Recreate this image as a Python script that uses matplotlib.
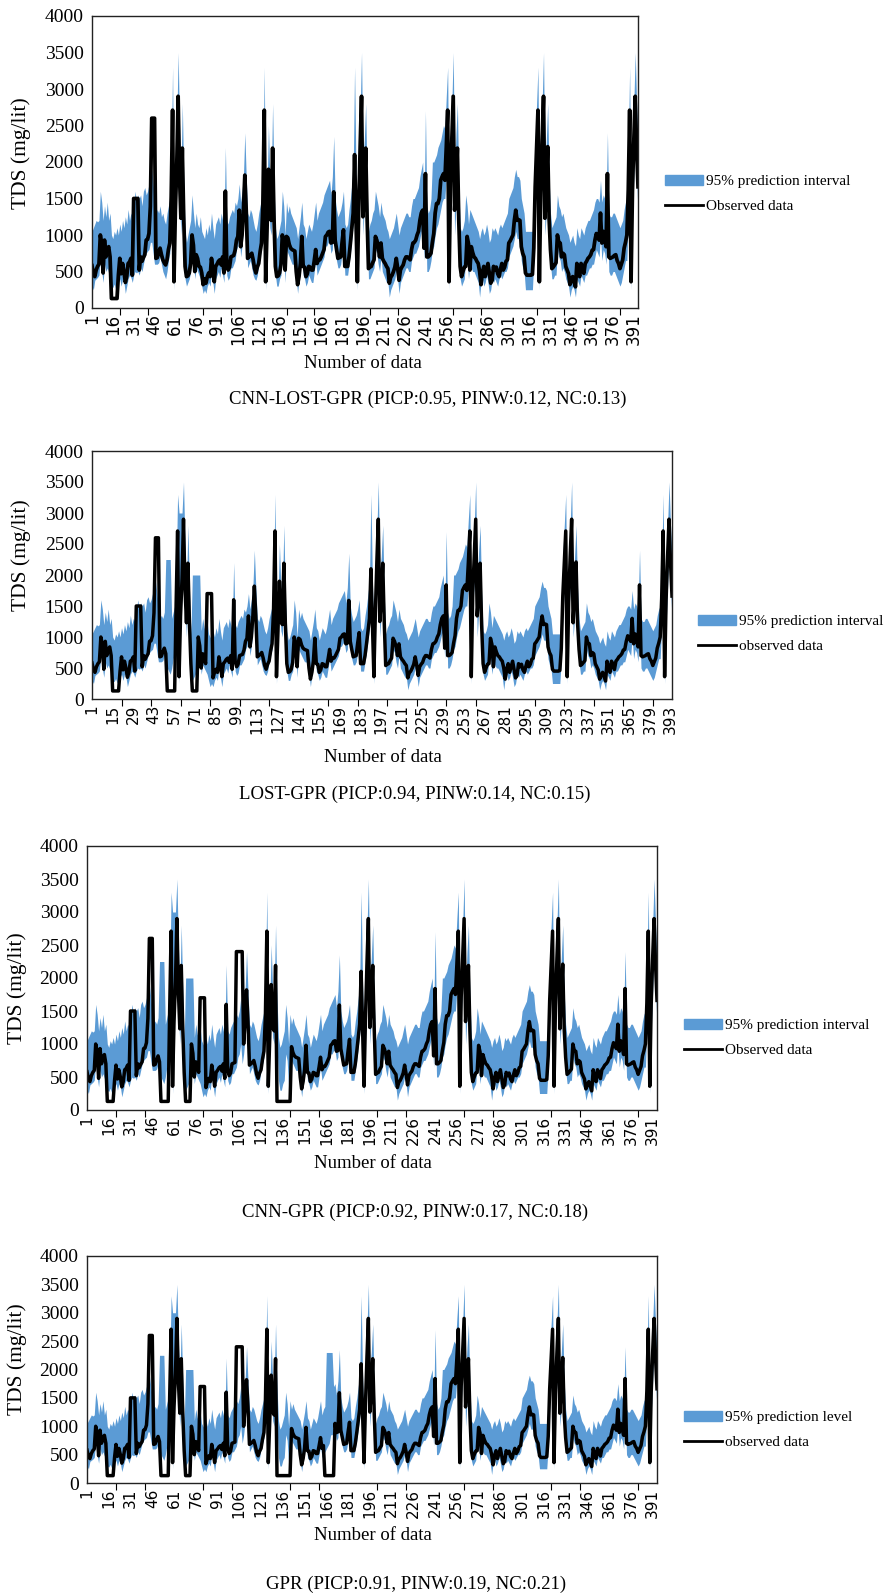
import numpy as np
import matplotlib.pyplot as plt
from matplotlib.patches import Patch
from matplotlib.lines import Line2D

plt.rcParams['font.family'] = ['Liberation Serif', 'DejaVu Serif']

# observed TDS (mg/lit), one value per record
observed = [
    580, 470, 430, 520, 570, 600, 1000, 880, 480, 930,
    700, 800, 840, 700, 130, 130, 130, 130, 130, 450,
    680, 470, 610, 500, 350, 430, 610, 630, 680, 450,
    1500, 1500, 1500, 1500, 520, 700, 640, 690, 730, 930,
    940, 1020, 1390, 2600, 2600, 2600, 680, 690, 760, 820,
    730, 660, 620, 590, 660, 800, 890, 1520, 2710, 360,
    1340, 1940, 2900, 1800, 1230, 2190, 1250, 570, 430, 440,
    480, 610, 1000, 860, 500, 730, 680, 570, 560, 480,
    320, 400, 340, 430, 480, 430, 680, 540, 360, 570,
    600, 640, 660, 590, 700, 480, 1600, 610, 520, 560,
    700, 710, 720, 790, 930, 980, 1340, 840, 1000, 1340,
    1820, 1340, 680, 700, 720, 750, 660, 540, 480, 560,
    610, 770, 890, 1430, 2710, 360, 1090, 1900, 1250, 1200,
    2190, 1230, 570, 430, 440, 480, 590, 1000, 890, 520,
    980, 960, 870, 820, 800, 790, 780, 500, 320, 430,
    610, 980, 570, 560, 430, 470, 570, 560, 520, 520,
    650, 800, 610, 660, 660, 700, 750, 800, 980, 1000,
    1040, 1050, 890, 900, 1590, 930, 800, 680, 690, 700,
    900, 1070, 570, 570, 570, 700, 890, 1100, 1300, 2100,
    1200, 360, 1390, 2200, 2900, 1250, 1600, 2190, 1250, 540,
    560, 570, 620, 660, 980, 930, 850, 700, 890, 680,
    640, 610, 570, 540, 340, 420, 450, 500, 560, 680,
    550, 380, 520, 560, 590, 660, 700, 700, 680, 660,
    800, 890, 900, 930, 1000, 1050, 1200, 1300, 1340, 820,
    1840, 700, 700, 720, 750, 900, 1020, 1300, 1430, 1430,
    1500, 1750, 1800, 1840, 1750, 2200, 2710, 360, 1710, 2300,
    2900, 1340, 1700, 2190, 1200, 570, 430, 500, 560, 570,
    980, 880, 520, 840, 760, 700, 680, 640, 610, 500,
    320, 480, 570, 430, 520, 610, 470, 340, 380, 570,
    520, 560, 470, 430, 530, 610, 520, 560, 640, 660,
    890, 920, 960, 1000, 1200, 1340, 1200, 1210, 1200, 840,
    750, 700, 480, 450, 450, 450, 450, 460, 820, 1660,
    2200, 2710, 360, 1570, 2300, 2900, 1230, 1700, 2210, 1230,
    800, 540, 560, 590, 620, 1000, 900, 890, 700, 750,
    730, 570, 520, 470, 320, 380, 430, 360, 290, 610,
    500, 430, 610, 560, 475, 610, 640, 680, 700, 730,
    790, 800, 930, 1020, 980, 930, 1300, 890, 1050, 950,
    840, 1840, 700, 680, 690, 700, 720, 730, 650, 610,
    540, 600, 660, 820, 900, 1000, 1620, 2710, 360, 1600,
    2300, 2900, 2200, 1660,
]

# upper edge of the 95% band
upper = [
    1050, 1100, 1150, 1200, 1180, 1200, 1600, 1450, 1200, 1400,
    1250, 1450, 1200, 1300, 1000, 950, 1050, 1000, 1100, 1000,
    1150, 1050, 1200, 1100, 1250, 1150, 1350, 1200, 1300, 1250,
    1400, 1600, 1450, 1550, 1500, 1550, 1400, 1600, 1650, 1550,
    1600, 1700, 1800, 1900, 1700, 1500, 1300, 1350, 1300, 1400,
    1250, 1300, 1200, 1150, 1300, 1400, 1500, 2000, 3300, 1000,
    2000, 2500, 3500, 2500, 1800, 2800, 1800, 1050, 900, 1000,
    1100, 1200, 1550, 1300, 1100, 1300, 1150, 1100, 1250, 1050,
    1000, 950, 1100, 1000, 1150, 1050, 1300, 1100, 950, 1150,
    1200, 1250, 1150, 1300, 1200, 1100, 2200, 1200, 1150, 1250,
    1300, 1350, 1300, 1450, 1400, 1500, 1700, 1450, 1600, 1800,
    2400, 1800, 1300, 1250, 1350, 1300, 1200, 1100, 1050, 1150,
    1300, 1400, 1500, 1900, 3300, 1000, 1600, 2500, 1800, 1700,
    2800, 1700, 1100, 950, 1000, 1100, 1200, 1600, 1400, 1000,
    1450, 1300, 1400, 1300, 1250, 1200, 1150, 1100, 950, 1100,
    1250, 1450, 1150, 1100, 950, 1050, 1150, 1100, 1050, 1150,
    1300, 1450, 1200, 1300, 1350, 1400, 1450, 1550, 1600, 1650,
    1700, 1750, 1550, 1800, 2350, 1500, 1350, 1250, 1300, 1350,
    1450, 1600, 1150, 1100, 1150, 1350, 1500, 1700, 1900, 3300,
    1900, 1000, 2000, 2700, 3500, 2000, 2300, 2800, 1700, 1050,
    1150, 1200, 1300, 1350, 1600, 1500, 1400, 1250, 1450, 1300,
    1250, 1200, 1100, 1050, 950, 1000, 1050, 1100, 1200, 1300,
    1150, 1000, 1100, 1150, 1200, 1250, 1300, 1300, 1250, 1250,
    1400, 1500, 1500, 1550, 1600, 1650, 1800, 1900, 2000, 1300,
    2700, 1400, 1300, 1350, 1500, 2000, 2000, 2050, 2100, 2200,
    2250, 2300, 2400, 2500, 2450, 2900, 3300, 1000, 2300, 2800,
    3500, 1800, 2400, 2800, 1700, 1100, 1050, 1100, 1200, 1550,
    1400, 1150, 1350, 1300, 1250, 1200, 1150, 1100, 1050, 950,
    1050, 1100, 1000, 1050, 1150, 1050, 900, 950, 1100, 1050,
    1100, 1050, 1000, 1100, 1150, 1100, 1150, 1200, 1250, 1300,
    1500, 1550, 1600, 1650, 1800, 1900, 1800, 1800, 1750, 1500,
    1400, 1300, 1050, 1050, 1050, 1050, 1050, 1050, 1400, 2300,
    2800, 3300, 1000, 2200, 2800, 3500, 1800, 2300, 2800, 1800,
    1300, 1100, 1150, 1200, 1250, 1550, 1400, 1350, 1250, 1300,
    1200, 1100, 1050, 1000, 900, 950, 1000, 900, 850, 1100,
    1000, 950, 1100, 1050, 1000, 1100, 1150, 1200, 1200, 1250,
    1300, 1350, 1450, 1500, 1500, 1450, 1750, 1450, 1550, 1500,
    1400, 2400, 1300, 1250, 1250, 1300, 1300, 1250, 1200, 1150,
    1100, 1150, 1200, 1350, 1450, 1500, 2200, 3300, 1000, 2200,
    2800, 3500, 2800, 2300,
]

# lower edge of the 95% band
lower = [
    300, 250, 380, 400, 420, 450, 700, 500, 350, 600,
    500, 550, 480, 450, 300, 280, 330, 260, 300, 350,
    400, 300, 400, 350, 200, 300, 400, 450, 420, 350,
    450, 500, 480, 500, 450, 550, 500, 600, 700, 750,
    780, 800, 900, 900, 750, 600, 600, 600, 620, 700,
    600, 500, 450, 400, 500, 650, 750, 1300, 2300, 250,
    1100, 1700, 2500, 1500, 1000, 1800, 1000, 400, 300, 350,
    400, 500, 800, 650, 400, 550, 500, 450, 400, 300,
    200, 250, 200, 300, 350, 300, 500, 350, 200, 400,
    450, 500, 420, 550, 450, 350, 1100, 450, 380, 420,
    550, 550, 600, 650, 800, 850, 1000, 700, 850, 1100,
    1500, 1100, 550, 600, 650, 550, 450, 400, 380, 450,
    600, 700, 800, 1200, 2300, 250, 900, 1600, 1100, 1000,
    1900, 1000, 450, 300, 300, 400, 450, 850, 750, 350,
    800, 750, 700, 650, 600, 600, 550, 400, 200, 400,
    500, 850, 450, 400, 300, 350, 450, 400, 350, 350,
    500, 650, 450, 500, 550, 600, 650, 700, 850, 850,
    900, 900, 750, 800, 1400, 800, 650, 550, 550, 600,
    750, 900, 450, 450, 450, 600, 750, 950, 1150, 1900,
    1000, 250, 1200, 2000, 2500, 1000, 1400, 1900, 1100, 400,
    400, 450, 500, 550, 800, 750, 600, 500, 700, 500,
    450, 400, 350, 350, 150, 250, 300, 350, 400, 500,
    400, 200, 350, 400, 450, 500, 550, 550, 500, 500,
    650, 700, 750, 750, 800, 850, 950, 1050, 1100, 650,
    1500, 500, 500, 550, 650, 800, 850, 1000, 1100, 1150,
    1250, 1350, 1450, 1500, 1500, 1800, 2300, 250, 1400, 1900,
    2500, 1000, 1400, 1800, 1000, 400, 300, 350, 400, 700,
    650, 400, 600, 550, 500, 500, 450, 400, 350, 150,
    350, 400, 300, 350, 450, 350, 200, 250, 400, 350,
    400, 350, 300, 400, 450, 400, 450, 500, 500, 550,
    700, 750, 800, 850, 950, 1050, 950, 950, 900, 650,
    550, 500, 250, 250, 250, 250, 250, 250, 650, 1300,
    1800, 2300, 250, 1300, 1800, 2500, 1000, 1300, 1800, 1000,
    600, 400, 400, 450, 450, 800, 700, 650, 500, 550,
    500, 400, 350, 300, 150, 250, 300, 250, 150, 400,
    350, 300, 450, 400, 350, 450, 450, 500, 550, 550,
    600, 600, 700, 800, 750, 700, 1000, 650, 800, 750,
    600, 1300, 500, 450, 450, 500, 500, 450, 400, 350,
    300, 350, 450, 550, 650, 650, 1200, 2300, 250, 1200,
    1800, 2500, 1800, 1300,
]

captions = [
    "CNN-LOST-GPR (PICP:0.95, PINW:0.12, NC:0.13)",
    "LOST-GPR (PICP:0.94, PINW:0.14, NC:0.15)",
    "CNN-GPR (PICP:0.92, PINW:0.17, NC:0.18)",
    "GPR (PICP:0.91, PINW:0.19, NC:0.21)",
]
band_labels = ["95% prediction interval", "95% prediction interval",
               "95% prediction interval", "95% prediction level"]
line_labels = ["Observed data", "observed data", "Observed data", "observed data"]
label_steps = [15, 14, 15, 15]

# stretches that differ per panel: (first record, last record, value)
obs_edits = [
    [],
    [(52, 57, 130), (69, 72, 130), (79, 82, 1700)],
    [(52, 57, 130), (69, 72, 130), (79, 82, 1700), (104, 108, 2400), (132, 141, 130)],
    [(52, 57, 130), (69, 72, 130), (79, 82, 1700), (104, 108, 2400), (132, 141, 130),
     (165, 171, 130)],
]
upper_edits = [
    [],
    [(51, 54, 2250), (60, 62, 3000), (69, 74, 2000)],
    [(51, 54, 2250), (60, 62, 3000), (69, 74, 2000)],
    [(51, 54, 2250), (60, 62, 3000), (69, 74, 2000), (166, 170, 2300)],
]

# layout in pixels: axes box (l, t, r, b), y-label, x-label, caption, legend anchor
W, H = 884, 1596
layout = [
    dict(box=(92, 16, 638, 308), ylab=(21, 153), xlab=(363, 364), cap=(428, 399), leg=(665, 194)),
    dict(box=(92, 451, 672, 699), ylab=(21, 555), xlab=(383, 757), cap=(415, 794), leg=(698, 634)),
    dict(box=(87, 846, 657, 1110), ylab=(17, 988), xlab=(373, 1163), cap=(415, 1212), leg=(684, 1038)),
    dict(box=(87, 1256, 657, 1483), ylab=(17, 1359), xlab=(373, 1536), cap=(416, 1584), leg=(684, 1430)),
]

blue = '#5B9BD5'
x = np.arange(1, len(observed) + 1)
n = len(observed)

fig = plt.figure(figsize=(W / 100, H / 100), dpi=100)

for i, lay in enumerate(layout):
    l, t, r, b = lay['box']
    ax = fig.add_axes([l / W, 1 - b / H, (r - l) / W, (b - t) / H])

    obs = np.array(observed, dtype=float)
    hi = np.array(upper, dtype=float)
    lo = np.array(lower, dtype=float)
    for s, e, v in obs_edits[i]:
        obs[s - 1:e] = v
    for s, e, v in upper_edits[i]:
        hi[s - 1:e] = v

    ax.fill_between(x, lo, hi, color=blue, lw=0, zorder=1)
    ax.plot(x, obs, color='black', lw=2.7 if i == 0 else 2.5, zorder=2)

    ax.set_xlim(1, n)
    ax.set_ylim(0, 4000)
    ax.set_yticks(np.arange(0, 4001, 500))
    ax.tick_params(axis='y', length=0, labelsize=14, pad=6)

    ax.set_xticks(np.arange(1, n + 1, label_steps[i]))
    ax.set_xticks(np.arange(1, n + 1, 20), minor=True)
    ax.tick_params(axis='x', which='major', length=0, labelrotation=90, pad=4)
    ax.tick_params(axis='x', which='minor', length=5, width=0.8, direction='out')
    for lab in ax.get_xticklabels():
        lab.set_family('DejaVu Sans')
        lab.set_fontsize(12 if i == 0 else 11)

    for sp in ax.spines.values():
        sp.set_linewidth(1.0)
        sp.set_color('#222222')

    fig.text(lay['ylab'][0] / W, 1 - lay['ylab'][1] / H, "TDS (mg/lit)",
             rotation=90, ha='center', va='center', fontsize=15.5)
    fig.text(lay['xlab'][0] / W, 1 - lay['xlab'][1] / H, "Number of data",
             ha='center', va='center', fontsize=13.5)
    fig.text(lay['cap'][0] / W, 1 - lay['cap'][1] / H, captions[i],
             ha='center', va='center', fontsize=13.5)

    handles = [Patch(color=blue), Line2D([0], [0], color='black', lw=2)]
    fig.legend(handles, [band_labels[i], line_labels[i]], loc='center left',
               bbox_to_anchor=(lay['leg'][0] / W, 1 - lay['leg'][1] / H),
               frameon=False, fontsize=11, handlelength=2.5, handletextpad=0.2,
               labelspacing=0.75, borderpad=0, borderaxespad=0)

fig.savefig('out.png', dpi=100)
